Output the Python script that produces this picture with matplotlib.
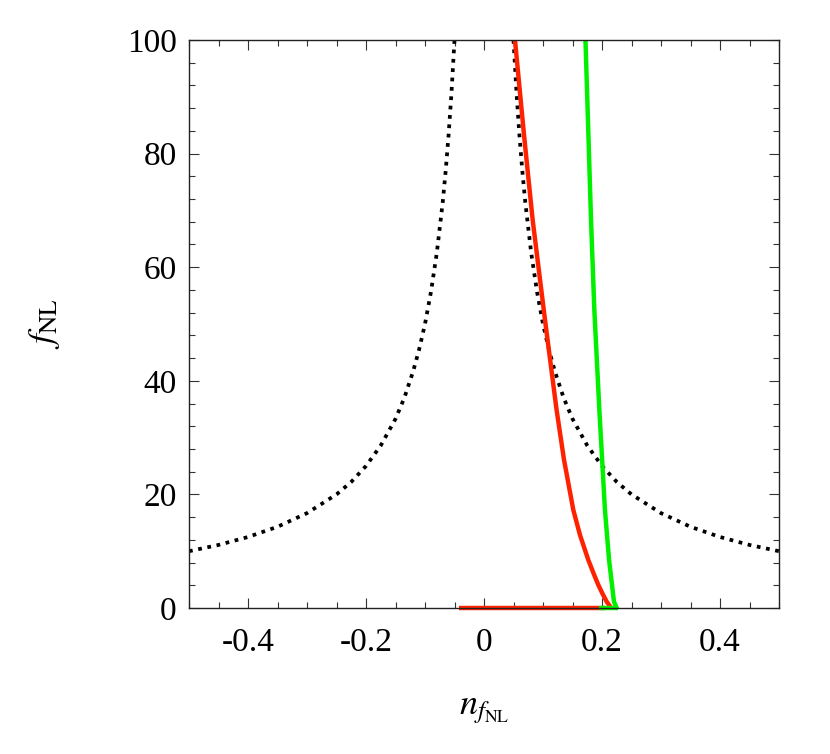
import matplotlib
matplotlib.use("Agg")
import matplotlib.pyplot as plt
from matplotlib.ticker import MultipleLocator

plt.rcParams['font.family'] = ['Liberation Serif', 'DejaVu Serif']
plt.rcParams['mathtext.fontset'] = 'stix'

# black dotted curve, left and right branches
dot_n_left = [-0.5, -0.45, -0.4, -0.35, -0.3, -0.25, -0.225, -0.2, -0.175, -0.15,
              -0.135, -0.12, -0.11, -0.1, -0.09, -0.08, -0.07, -0.065, -0.06, -0.055, -0.05]
dot_f_left = [10.0, 11.1, 12.5, 14.3, 16.7, 20.0, 22.2, 25.0, 28.6, 33.3,
              37.0, 41.7, 45.5, 50.0, 55.6, 62.5, 71.4, 76.9, 83.3, 90.9, 100.0]
dot_n_right = [0.05, 0.055, 0.06, 0.065, 0.07, 0.08, 0.09, 0.1, 0.11, 0.12,
               0.135, 0.15, 0.175, 0.2, 0.225, 0.25, 0.3, 0.35, 0.4, 0.45, 0.5]
dot_f_right = [100.0, 90.9, 83.3, 76.9, 71.4, 62.5, 55.6, 50.0, 45.5, 41.7,
               37.0, 33.3, 28.6, 25.0, 22.2, 20.0, 16.7, 14.3, 12.5, 11.1, 10.0]

# red curve
red_n = [0.0525, 0.0678, 0.0825, 0.1034, 0.123, 0.1356, 0.1514, 0.1627, 0.1768, 0.188, 0.1938, 0.2005, 0.208, 0.2136]
red_f = [100.0, 83.3, 68.3, 50.7, 34.9, 26.1, 17.25, 12.85, 8.45, 5.5, 4.05, 2.6, 1.1, 0.3]
red_base_n = [-0.042, 0.205]
red_base_f = [0.0, 0.0]

# green curve
green_n = [0.172, 0.1814, 0.187, 0.1955, 0.205, 0.212, 0.2203, 0.225]
green_f = [100.0, 68.3, 52.5, 34.9, 17.25, 8.45, 1.1, 0.0]
green_base_n = [0.195, 0.227]
green_base_f = [0.0, 0.0]

xticks = [-0.4, -0.2, 0, 0.2, 0.4]
xticklabels = ['-0.4', '-0.2', '0', '0.2', '0.4']
yticks = [0, 20, 40, 60, 80, 100]
yticklabels = ['0', '20', '40', '60', '80', '100']

fig = plt.figure(figsize=(8.30, 7.54), dpi=100)
ax = fig.add_axes([189/830, 1 - 608/754, (779-189)/830, (608-40)/754])

dotted = (0, (1.0, 1.5))
ax.plot(dot_n_left, dot_f_left, color='black', lw=2.7, linestyle=dotted, dash_capstyle='butt')
ax.plot(dot_n_right, dot_f_right, color='black', lw=2.7, linestyle=dotted, dash_capstyle='butt')
ax.plot(red_base_n, red_base_f, color='#ff2200', lw=3.2, solid_capstyle='butt', clip_on=False)
ax.plot(red_n, red_f, color='#ff2200', lw=3.2)
ax.plot(green_base_n, green_base_f, color='#00f000', lw=3.2, solid_capstyle='butt', clip_on=False)
ax.plot(green_n, green_f, color='#00f000', lw=3.2)

ax.set_xlim(-0.5, 0.5)
ax.set_ylim(0, 100)
ax.set_xticks(xticks)
ax.set_xticklabels(xticklabels)
ax.set_yticks(yticks)
ax.set_yticklabels(yticklabels)
ax.xaxis.set_minor_locator(MultipleLocator(0.05))
ax.yaxis.set_minor_locator(MultipleLocator(4))
ax.tick_params(which='both', direction='in', top=True, right=True, labelsize=24, width=0.8, color='#333333')
ax.tick_params(which='major', length=7)
ax.tick_params(which='minor', length=4)
ax.tick_params(axis='x', pad=14)
ax.tick_params(axis='y', pad=9)
for s in ax.spines.values():
    s.set_linewidth(1.0)
    s.set_color('#222222')

ax.set_xlabel(r'$n_{f_{\rm NL}}$', fontsize=26)
ax.set_ylabel(r'$f_{\rm NL}$', fontsize=26)
ax.xaxis.set_label_coords(0.5, -0.15)
ax.yaxis.set_label_coords(-0.215, 0.5)

fig.savefig('out.png', dpi=100)
